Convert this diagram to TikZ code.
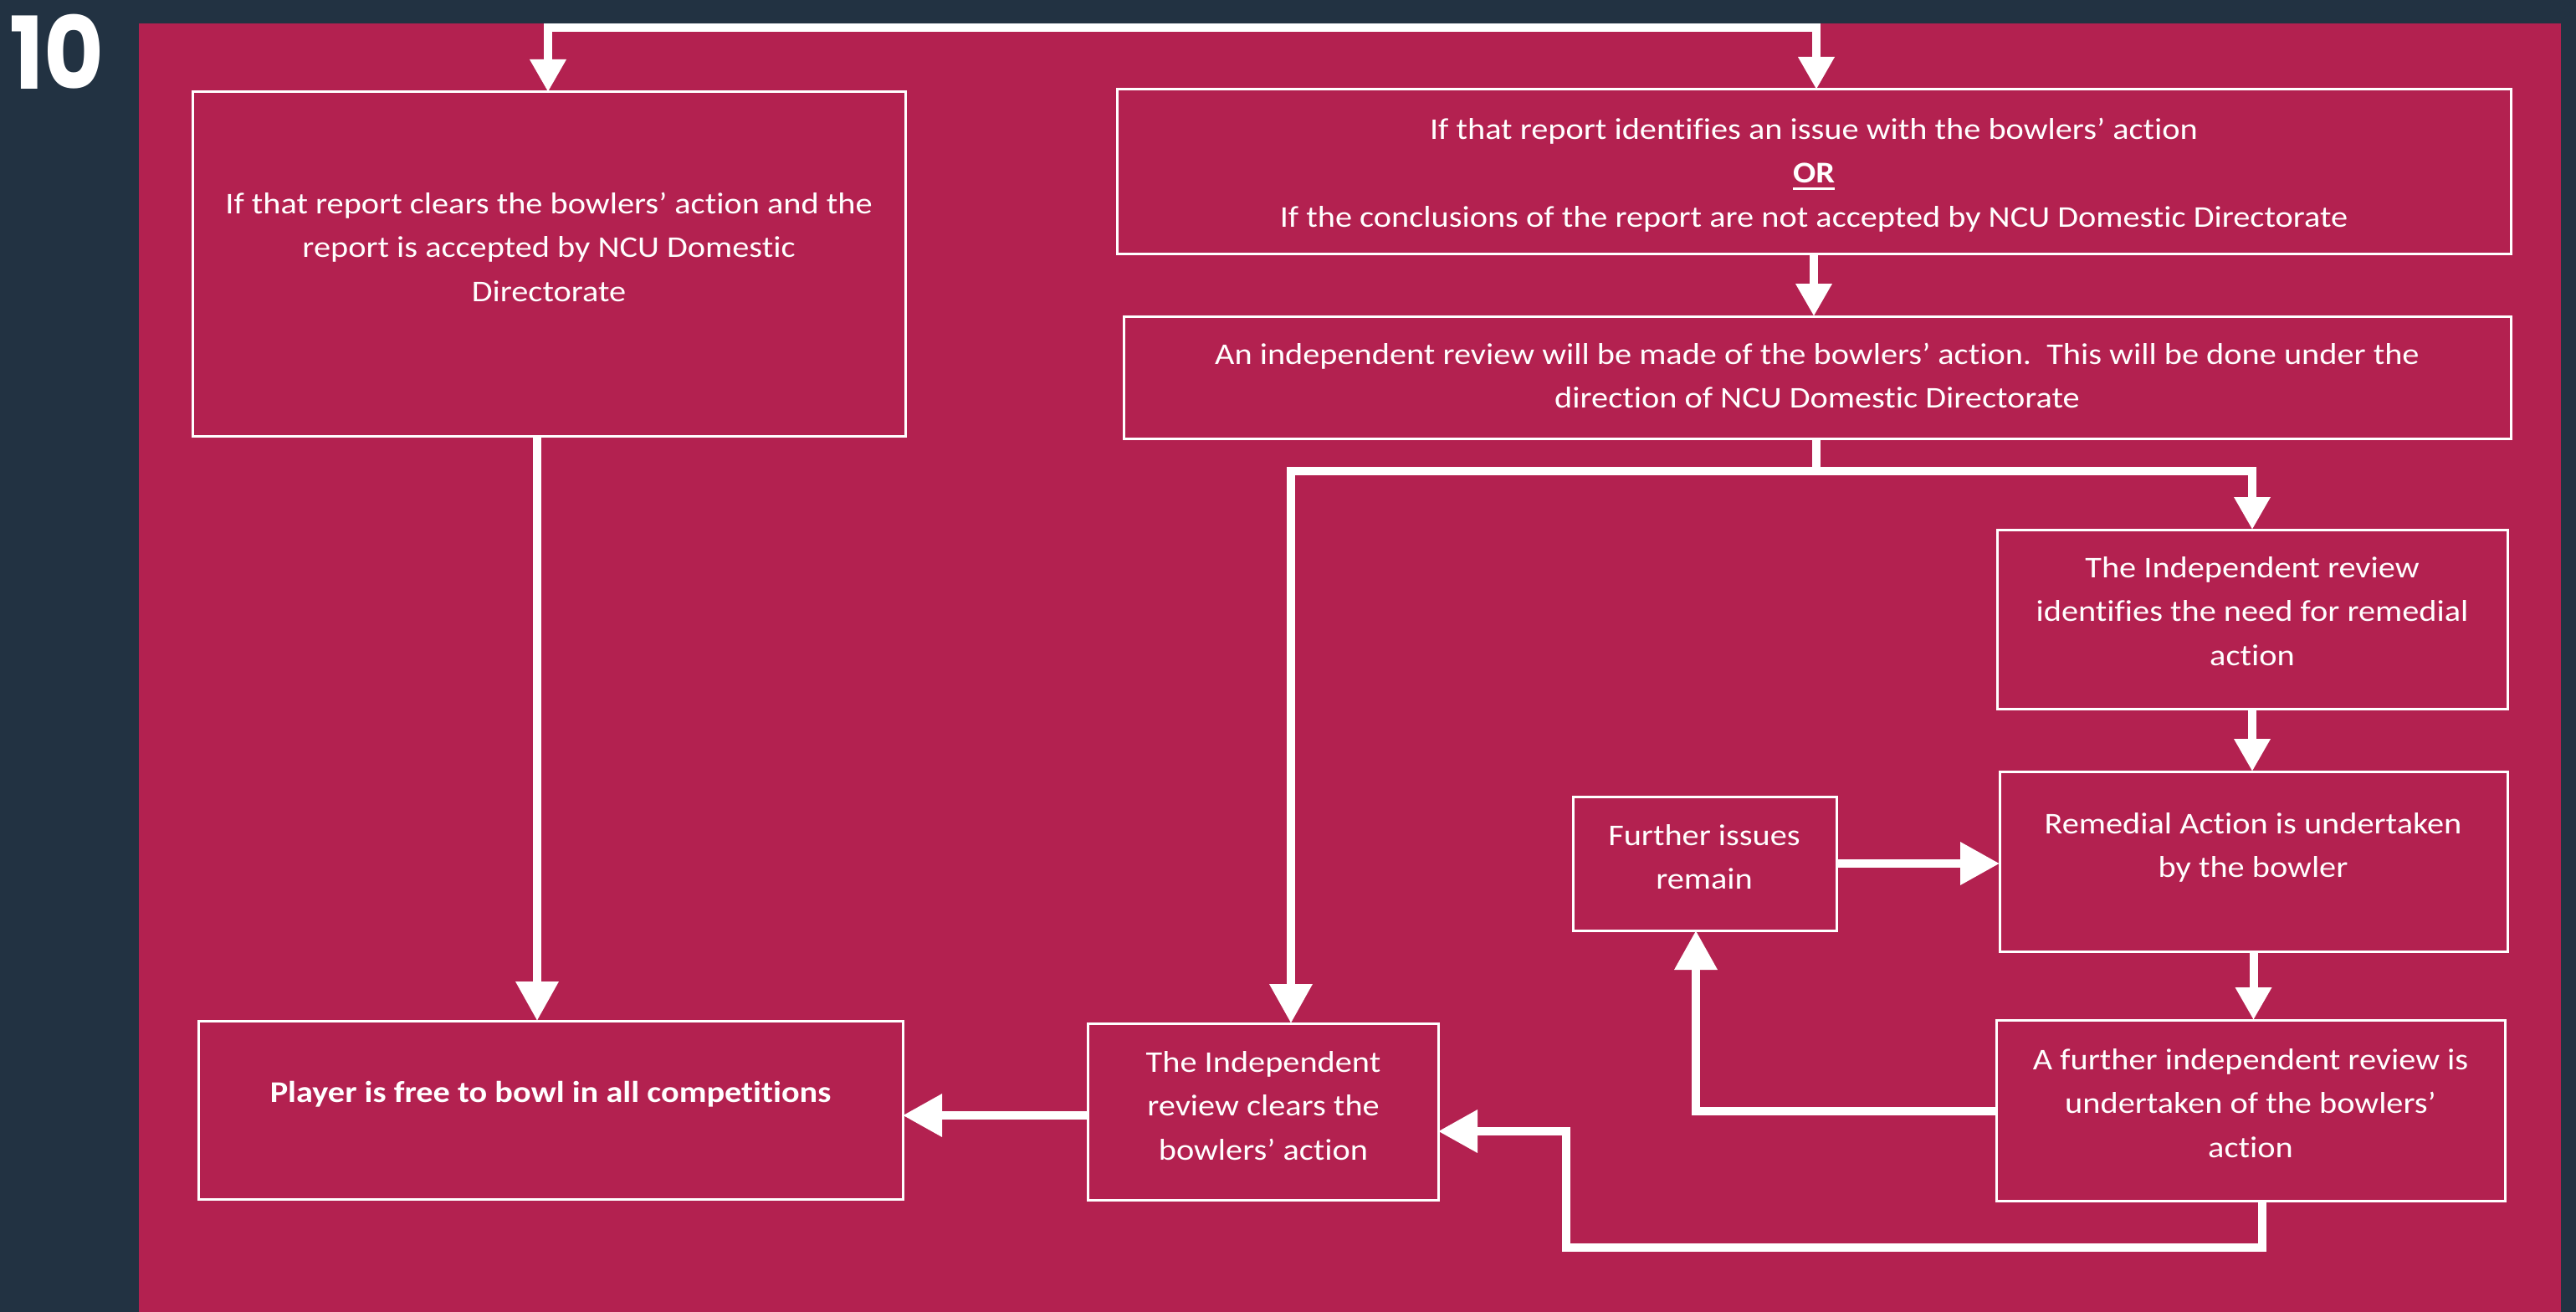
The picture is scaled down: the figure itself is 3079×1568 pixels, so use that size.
\documentclass[tikz,border=0pt]{standalone}
\usepackage{fontspec}
\setmainfont{Carlito}[FakeStretch=1.12, Ligatures=NoCommon]
\newfontfamily\poppins{Poppins}[FakeStretch=0.92]
\usetikzlibrary{arrows.meta}
\definecolor{darkbg}{HTML}{223242}
\definecolor{panel}{HTML}{B32150}
\newcommand\myul[1]{\setbox0\hbox{#1}\rlap{\rule[-8pt]{\wd0}{3pt}}\box0}
\begin{document}
\begin{tikzpicture}[x=1pt,y=-1pt,
  box/.style={draw=white, line width=3pt, rectangle, inner sep=0pt, outer sep=0pt},
  txt/.style={text=white, align=center, anchor=north, inner sep=0pt, font=\fontsize{36}{52.5}\selectfont},
  conn/.style={draw=white, line width=10pt},
  arrB/.style={conn, -{Triangle[length=47pt,width=49pt]}},
  arrS/.style={conn, -{Triangle[length=39pt,width=41pt]}}]
\useasboundingbox (0,0) rectangle (3079,1568);
\fill[darkbg] (0,0) rectangle (3079,1568);
\fill[panel] (166,28) rectangle (3061,1568);
\node[anchor=base west, text=white, inner sep=0pt, font=\fontsize{120}{120}\selectfont\poppins\bfseries] (num) at (11,107) {10};

% boxes
\node[box, minimum width=852pt, minimum height=411pt] (A) at (656,315.5) {};
\node[box, minimum width=1666pt, minimum height=196pt] (B) at (2168,205) {};
\node[box, minimum width=1658pt, minimum height=146pt] (C) at (2172,451) {};
\node[box, minimum width=610pt, minimum height=214pt] (D) at (2692,740) {};
\node[box, minimum width=607pt, minimum height=215pt] (E) at (2693.5,1029.5) {};
\node[box, minimum width=315pt, minimum height=160pt] (F) at (2037.5,1032) {};
\node[box, minimum width=608pt, minimum height=216pt] (G) at (2690,1327) {};
\node[box, minimum width=419pt, minimum height=211pt] (H) at (1509.5,1328.5) {};
\node[box, minimum width=842pt, minimum height=213pt] (I) at (658,1326.5) {};

% texts
\node[txt] (tA) at (656,218.25) {\strut If that report clears the bowlers’ action and the\\report is accepted by NCU Domestic\\Directorate};
\node[txt] (tB) at (2168,129.25) {\strut If that report identifies an issue with the bowlers’ action\\\textbf{\myul{OR}}\\If the conclusions of the report are not accepted by NCU Domestic Directorate};
\node[txt] (tC) at (2172,398.25) {\strut An independent review will be made of the bowlers’ action.\ \ This will be done under the\\direction of NCU Domestic Directorate};
\node[txt] (tD) at (2692,653.25) {\strut The Independent review\\identifies the need for remedial\\action};
\node[txt] (tE) at (2693,959.25) {\strut Remedial Action is undertaken\\by the bowler};
\node[txt] (tF) at (2037,973.25) {\strut Further issues\\remain};
\node[txt] (tG) at (2690,1241.25) {\strut A further independent review is\\undertaken of the bowlers’\\action};
\node[txt] (tH) at (1510,1244.25) {\strut The Independent\\review clears the\\bowlers’ action};
\node[txt] (tI) at (658,1280.25) {\strut\textbf{Player is free to bowl in all competitions}};

% connectors
\coordinate (tl) at (655,33);
\coordinate (tr) at (2171,33);
\draw[arrS] (tr) -- (tl) -- (tl |- A.north);
\draw[arrS] (tl) -- (tr) -- (tr |- B.north);
\draw[arrS] (B.south) -- (B.south |- C.north);

\coordinate (s) at (2171,563);
\coordinate (sl) at (1543,563);
\coordinate (sr) at (2692,563);
\draw[conn] (s |- C.south) -- (s);
\draw[arrB] (s) -- (sl) -- (sl |- H.north);
\draw[arrS] (s) -- (sr) -- (sr |- D.north);

\draw[arrS] (D.south) -- (D.south |- E.north);
\draw[arrS] (E.south) -- (E.south |- G.north);

\coordinate (gf) at (2027,1328);
\draw[arrB] (G.west |- gf) -- (gf) -- (gf |- F.south);
\draw[arrB] (F.east) -- (F.east -| E.west);

\coordinate (g1) at (2704,1491);
\coordinate (g2) at (1872,1491);
\coordinate (g3) at (1872,1352);
\draw[arrB] (g1 |- G.south) -- (g1) -- (g2) -- (g3) -- (g3 -| H.east);

\coordinate (hi) at (0,1333);
\draw[arrB] (H.west |- hi) -- (hi -| I.east);

\coordinate (ai) at (642,0);
\draw[arrB] (ai |- A.south) -- (ai |- I.north);
\end{tikzpicture}
\end{document}
